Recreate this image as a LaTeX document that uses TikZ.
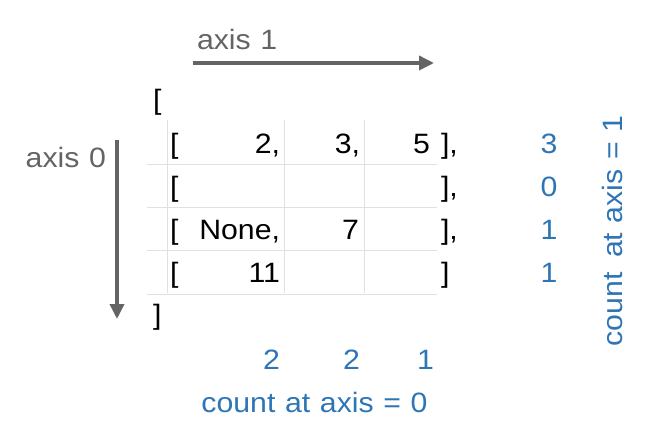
\documentclass[tikz,border=0pt]{standalone}
\usepackage{fontspec}
\setmainfont[FakeStretch=1.08,WordSpace=1.15]{Liberation Sans}
\usetikzlibrary{arrows.meta}
\definecolor{cblue}{RGB}{46,117,182}
\definecolor{cgray}{RGB}{100,100,100}
\definecolor{cgrid}{RGB}{224,224,224}
\tikzset{
  txt/.style={inner sep=0pt, outer sep=0pt, font=\fontsize{28}{34}\selectfont},
  blk/.style={txt, text=black},
  blu/.style={txt, text=cblue},
  gry/.style={txt, text=cgray},
  gridline/.style={draw=cgrid, line width=1pt},
  axisarrow/.style={draw=cgray, line width=3.5pt, -{Triangle[length=15pt,width=14pt]}}
}
\begin{document}
\begin{tikzpicture}[x=1pt,y=-1pt]
\useasboundingbox (0,0) rectangle (671,445);
% grid
\foreach \x in {167,284,364} \draw[gridline] (\x,120) -- (\x,293);
\foreach \y in {164.5,207.5,250.5,294} \draw[gridline] (147,\y) -- (437,\y);
% axes
\node[gry, anchor=base west] (ax1) at (197,49) {axis 1};
\coordinate (a1s) at (193,63);
\coordinate (a1e) at (434,63);
\draw[axisarrow] (a1s) -- (a1e);
\node[gry, anchor=base east] (ax0) at (106,167) {axis 0};
\coordinate (a0s) at (117,140);
\coordinate (a0e) at (117,319);
\draw[axisarrow] (a0s) -- (a0e);
% outer brackets
\node[blk, anchor=base west] (ob) at (153,109) {[};
\node[blk, anchor=base west] (cb) at (153,324) {]};
% rows
\foreach \r/\yy in {1/153,2/196,3/239,4/282}{
  \node[blk, anchor=base west] (lb\r) at (170,\yy) {[};
}
\node[blk, anchor=base east] (c11) at (280,153) {2,};
\node[blk, anchor=base east] (c12) at (360,153) {3,};
\node[blk, anchor=base east] (c13) at (430,153) {5};
\node[blk, anchor=base west] (rb1) at (441,153) {],};
\node[blk, anchor=base west] (rb2) at (441,196) {],};
\node[blk, anchor=base east] (c31) at (280,239) {None,};
\node[blk, anchor=base east] (c32) at (359,239) {7};
\node[blk, anchor=base west] (rb3) at (441,239) {],};
\node[blk, anchor=base east] (c41) at (280,282) {11};
\node[blk, anchor=base west] (rb4) at (441,282) {]};
% counts axis 1
\node[blu, anchor=base] (n1) at (549,153) {3};
\node[blu, anchor=base] (n2) at (549,196) {0};
\node[blu, anchor=base] (n3) at (549,239) {1};
\node[blu, anchor=base] (n4) at (549,282) {1};
\node[blu, anchor=base, rotate=90] (lab1) at (622,231) {count\hspace{5pt} at axis = 1};
% counts axis 0
\node[blu, anchor=base east] (m1) at (280,369) {2};
\node[blu, anchor=base east] (m2) at (360,369) {2};
\node[blu, anchor=base east] (m3) at (434,369) {1};
\node[blu, anchor=base] (lab0) at (314.5,412) {count at axis = 0};
\end{tikzpicture}
\end{document}
